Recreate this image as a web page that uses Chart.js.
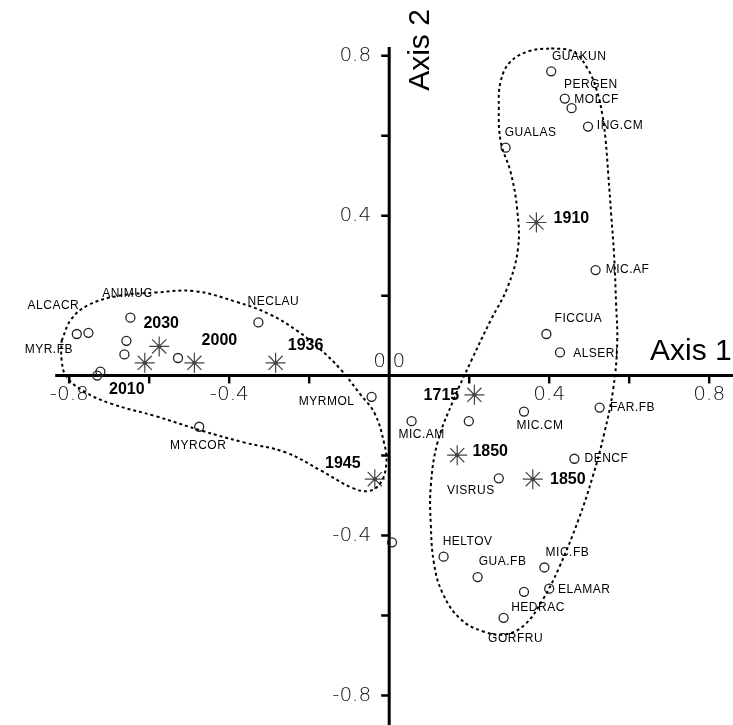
<!DOCTYPE html>
<html lang="en">
<head>
<meta charset="UTF-8">
<title>Ordination plot</title>
<style>
  body { margin: 0; background: #fff; }
  #wrap { width: 733px; height: 725px; }
</style>
</head>
<body>
<div id="wrap"><canvas id="myChart" width="733" height="725"></canvas></div>

<script src="https://cdn.jsdelivr.net/npm/chart.js"></script>
<script>
// species scores (circles)
let speciesNames = ['ALCACR','MYR.FB','ANIMUC','','','','','','NECLAU','MYRMOL','MYRCOR','',
  'GUAKUN','PERGEN','MOLCF','ING.CM','GUALAS','MIC.AF','FICCUA','ALSERI','MIC.AM','',
  'MIC.CM','FAR.FB','DENCF','VISRUS','HELTOV','GUA.FB','MIC.FB','ELAMAR','HEDRAC','GORFRU'];
let speciesAxis1 = [-0.752,-0.781,-0.647,-0.657,-0.662,-0.722,-0.730,-0.528,-0.327,-0.044,-0.475,0.007,
  0.405,0.439,0.456,0.497,0.291,0.516,0.393,0.427,0.056,0.199,
  0.337,0.526,0.463,0.274,0.136,0.221,0.388,0.400,0.337,0.286];
let speciesAxis2 = [0.107,0.104,0.145,0.087,0.053,0.010,0.000,0.044,0.133,-0.053,-0.128,-0.417,
  0.761,0.693,0.669,0.623,0.570,0.264,0.104,0.058,-0.114,-0.114,
  -0.090,-0.080,-0.208,-0.257,-0.453,-0.504,-0.480,-0.533,-0.541,-0.606];

// year centroids (stars)
let yearNames = ['2030','2010','2000','1936','1910','1715','1850','1850','1945'];
let yearAxis1 = [-0.575,-0.611,-0.487,-0.284,0.368,0.213,0.170,0.359,-0.036];
let yearAxis2 = [0.073,0.032,0.032,0.032,0.383,-0.048,-0.199,-0.259,-0.259];

// dotted envelopes, traced round the two groups
let leftHullAxis1 = [-0.819,-0.795,-0.751,-0.679,-0.582,-0.485,-0.381,-0.298,-0.230,-0.177,-0.121,-0.073,
  -0.036,-0.012,-0.007,-0.019,-0.048,-0.092,-0.170,-0.259,-0.364,-0.468,-0.582,-0.696,-0.764,-0.807,-0.819];
let leftHullAxis2 = [0.087,0.141,0.177,0.199,0.208,0.211,0.184,0.153,0.112,0.070,0.015,-0.046,
  -0.095,-0.172,-0.216,-0.264,-0.288,-0.281,-0.238,-0.192,-0.167,-0.138,-0.102,-0.070,-0.039,-0.002,0.039];
let rightHullAxis1 = [0.405,0.461,0.497,0.519,0.533,0.541,0.548,0.555,0.562,0.567,0.570,0.560,0.538,0.509,
  0.473,0.424,0.383,0.339,0.291,0.235,0.177,0.133,0.112,0.104,0.104,0.121,0.162,0.206,0.255,0.296,
  0.322,0.320,0.303,0.279,0.274,0.279,0.303,0.351];
let rightHullAxis2 = [0.819,0.810,0.766,0.713,0.652,0.589,0.499,0.402,0.305,0.184,0.080,-0.034,-0.143,-0.252,
  -0.361,-0.482,-0.562,-0.623,-0.647,-0.640,-0.608,-0.543,-0.470,-0.373,-0.276,-0.167,-0.058,0.039,0.141,0.221,
  0.318,0.415,0.511,0.584,0.669,0.737,0.785,0.812];

// axis ticks
let tickValues = [-0.8,-0.6,-0.4,-0.2,0.2,0.4,0.6,0.8];
let tickLabels = ['-0.8','','-0.4','','','0.4','','0.8'];

// ---- layout only below ----
// label offsets in pixels from the point, same order as the names
let speciesNudge = [[-35,-27],[-28,16],[-3,-24],null,null,null,null,null,[15,-21],[-45,5],[-1,19],null,
  [28,-15],[26,-14],[25,-8],[32,-1],[25,-15],[32,0],[32,-15],[36,1],[10,14],null,
  [16,14],[33,0],[32,0],[-28,12],[24,-15],[25,-15],[23,-15],[35,1],[14,16],[12,21]];
let yearNudge = [[2,-23],[-18,27],[25,-22],[30,-17],[35,-4],[-33,1],[33,-4],[35,0],[-32,-16]];

function toPoints(xs, ys) {
  return xs.map(function(x, i){ return {x: x, y: ys[i]}; });
}
function closed(xs, ys) {
  let p = toPoints(xs, ys);
  p.push(p[0]);
  return p;
}

let axesPlugin = {
  id: 'crossAxes',
  beforeDatasetsDraw: function(chart){
    let ctx = chart.ctx;
    let sx = chart.scales.x, sy = chart.scales.y;
    let x0 = sx.getPixelForValue(0), y0 = sy.getPixelForValue(0);
    ctx.save();
    ctx.strokeStyle = '#000';
    ctx.lineWidth = 3;
    ctx.beginPath();
    ctx.moveTo(sx.getPixelForValue(-0.835), y0);
    ctx.lineTo(chart.width, y0);
    ctx.moveTo(x0, sy.getPixelForValue(0.822));
    ctx.lineTo(x0, chart.height);
    ctx.stroke();

    ctx.lineWidth = 2.5;
    ctx.beginPath();
    tickValues.forEach(function(v){
      let px = sx.getPixelForValue(v);
      ctx.moveTo(px, y0);
      ctx.lineTo(px, y0 + 8);
      let py = sy.getPixelForValue(v);
      ctx.moveTo(x0, py);
      ctx.lineTo(x0 - 8, py);
    });
    ctx.stroke();

    ctx.fillStyle = '#111';
    ctx.font = '200 20px "DejaVu Sans", "Liberation Sans", sans-serif';
    ctx.textBaseline = 'middle';
    tickValues.forEach(function(v, i){
      if (!tickLabels[i]) return;
      ctx.textAlign = 'center';
      ctx.fillText(tickLabels[i], sx.getPixelForValue(v), y0 + 19);
      ctx.textAlign = 'right';
      ctx.fillText(tickLabels[i], x0 - 18, sy.getPixelForValue(v));
    });
    ctx.textAlign = 'center';
    ctx.textBaseline = 'bottom';
    ctx.fillText('0.0', x0, y0 - 4);

    // axis titles
    ctx.fillStyle = '#000';
    ctx.font = '30px "Liberation Sans", Arial, sans-serif';
    ctx.textAlign = 'left';
    ctx.textBaseline = 'alphabetic';
    ctx.fillText('Axis 1', 650, y0 - 16);
    ctx.translate(x0 + 40, 50);
    ctx.rotate(-Math.PI / 2);
    ctx.textAlign = 'center';
    ctx.fillText('Axis 2', 0, 0);
    ctx.restore();
  }
};

let labelPlugin = {
  id: 'pointLabels',
  afterDatasetsDraw: function(chart){
    let ctx = chart.ctx;
    ctx.save();
    ctx.textAlign = 'center';
    ctx.textBaseline = 'middle';
    ctx.fillStyle = '#000';
    ctx.font = '12px "Liberation Sans", Arial, sans-serif';
    if ('letterSpacing' in ctx) ctx.letterSpacing = '0.5px';
    chart.getDatasetMeta(2).data.forEach(function(el, i){
      if (!speciesNames[i]) return;
      let n = speciesNudge[i];
      ctx.fillText(speciesNames[i], el.x + n[0], el.y + n[1]);
    });
    if ('letterSpacing' in ctx) ctx.letterSpacing = '0px';
    ctx.font = 'bold 16px "Liberation Sans", Arial, sans-serif';
    chart.getDatasetMeta(3).data.forEach(function(el, i){
      let n = yearNudge[i];
      ctx.fillText(yearNames[i], el.x + n[0], el.y + n[1]);
    });
    ctx.restore();
  }
};

let hullStyle = {
  showLine: true,
  fill: false,
  borderColor: '#000',
  borderWidth: 2,
  borderDash: [3, 3],
  tension: 0.4,
  pointRadius: 0,
  pointHoverRadius: 0
};

let config = {
  type: 'scatter',
  data: {
    datasets: [
      Object.assign({ label: 'left group', data: closed(leftHullAxis1, leftHullAxis2) }, hullStyle),
      Object.assign({ label: 'right group', data: closed(rightHullAxis1, rightHullAxis2) }, hullStyle),
      {
        label: 'species',
        data: toPoints(speciesAxis1, speciesAxis2),
        pointStyle: 'circle',
        pointRadius: 4.5,
        borderWidth: 1.3,
        borderColor: '#222',
        backgroundColor: 'rgba(0,0,0,0)'
      },
      {
        label: 'years',
        data: toPoints(yearAxis1, yearAxis2),
        pointStyle: 'star',
        pointRadius: 10,
        borderWidth: 1.2,
        borderColor: '#444',
        backgroundColor: '#444'
      },
      {
        label: 'year centres',
        data: toPoints(yearAxis1, yearAxis2),
        pointStyle: 'circle',
        pointRadius: 2,
        borderWidth: 0,
        backgroundColor: '#000'
      }
    ]
  },
  options: {
    responsive: false,
    animation: false,
    layout: { padding: 0 },
    plugins: { legend: { display: false }, tooltip: { enabled: false } },
    scales: {
      x: { type: 'linear', min: -0.945, max: 0.8315, display: false },
      y: { type: 'linear', min: -0.846, max: 0.9115, display: false }
    }
  },
  plugins: [axesPlugin, labelPlugin]
};

let MyChart = new Chart(document.getElementById('myChart').getContext('2d'), config);
</script>
</body>
</html>
